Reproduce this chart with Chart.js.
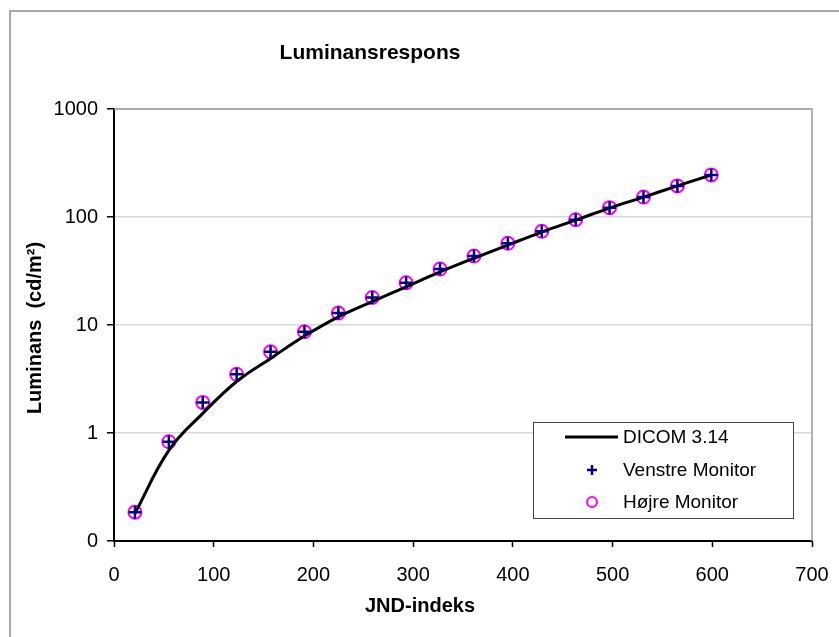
<!DOCTYPE html>
<html>
<head>
<meta charset="utf-8">
<script src="https://cdn.jsdelivr.net/npm/chart.js@4"></script>
<style>
  html, body { margin: 0; padding: 0; background: #fff; }
  canvas { display: block; }
</style>
</head>
<body>
<canvas id="chart" width="839" height="637"></canvas>
<script>
// values
const jndIndex = [21, 55, 89, 123, 157, 191, 225, 259, 293, 327, 361, 395, 429, 463, 497, 531, 565, 599];
const dicomLum = [0.18, 0.69, 1.52, 3.0, 4.9, 7.9, 11.9, 16.5, 22.6, 31.0, 41.5, 55, 72.5, 93.5, 121, 153, 194, 245];
const venstreLum = [0.185, 0.83, 1.92, 3.5, 5.65, 8.65, 12.9, 18.0, 24.6, 33.0, 43.5, 57.1, 73.7, 94.4, 122, 153, 194, 245];
const hojreLum = [0.185, 0.83, 1.92, 3.5, 5.65, 8.65, 12.9, 18.0, 24.6, 33.0, 43.5, 57.1, 73.7, 94.4, 122, 153, 194, 245];
const yTicks = [0.1, 1, 10, 100, 1000];
const xTicks = [0, 100, 200, 300, 400, 500, 600, 700];

const seriesNames = ["DICOM 3.14", "Venstre Monitor", "Højre Monitor"];
const chartTitle = "Luminansrespons";
const xTitle = "JND-indeks";
const yTitle = "Luminans  (cd/m²)";

const FONT = "'Liberation Sans', Arial, sans-serif";

function pts(xs, ys) {
    return xs.map((x, i) => ({ x: x, y: ys[i] }));
}

// frame, titles, plot border and legend box
const decor = {
    id: "decor",
    beforeDraw(chart) {
        const c = chart.ctx;
        c.save();
        c.fillStyle = "#fff";
        c.fillRect(0, 0, chart.width, chart.height);
        c.strokeStyle = "#8c8c8c";
        c.lineWidth = 1.5;
        c.strokeRect(10, 11, 1000, 1000);
        c.restore();
    },
    beforeDatasetsDraw(chart) {
        const c = chart.ctx;
        const a = chart.chartArea;
        c.save();
        c.strokeStyle = "#9a9a9a";
        c.lineWidth = 1.5;
        c.beginPath();
        c.moveTo(a.left, a.top);
        c.lineTo(a.right, a.top);
        c.lineTo(a.right, a.bottom);
        c.stroke();
        c.restore();
    },
    afterDraw(chart) {
        const c = chart.ctx;
        c.save();
        c.fillStyle = "#000";
        c.textAlign = "center";
        c.textBaseline = "alphabetic";
        c.font = "bold 21px " + FONT;
        c.fillText(chartTitle, 370, 59);
        c.font = "bold 20px " + FONT;
        c.fillText(xTitle, 420, 612);
        c.save();
        c.translate(35, 328);
        c.rotate(-Math.PI / 2);
        c.textBaseline = "middle";
        c.fillText(yTitle, 0, 0);
        c.restore();

        // legend
        c.fillStyle = "#fff";
        c.fillRect(533, 422, 260, 96);
        c.strokeStyle = "#444";
        c.lineWidth = 1;
        c.strokeRect(533.5, 422.5, 260, 96);
        const rows = [437, 470, 502];
        c.strokeStyle = "#000";
        c.lineWidth = 3;
        c.beginPath();
        c.moveTo(565, rows[0]);
        c.lineTo(618, rows[0]);
        c.stroke();
        c.strokeStyle = "#000080";
        c.lineWidth = 2.5;
        c.beginPath();
        c.moveTo(587, rows[1]); c.lineTo(597, rows[1]);
        c.moveTo(592, rows[1] - 5); c.lineTo(592, rows[1] + 5);
        c.stroke();
        c.strokeStyle = "#ff00ff";
        c.lineWidth = 2;
        c.beginPath();
        c.arc(592, rows[2], 5, 0, Math.PI * 2);
        c.stroke();
        c.fillStyle = "#000";
        c.font = "19px " + FONT;
        c.textAlign = "left";
        c.textBaseline = "middle";
        seriesNames.forEach((n, i) => c.fillText(n, 623, rows[i] + 1));
        c.restore();
    }
};

new Chart(document.getElementById("chart"), {
    type: "scatter",
    data: {
        datasets: [
            {
                label: seriesNames[1],
                data: pts(jndIndex, venstreLum),
                pointStyle: "cross",
                pointRadius: 6.5,
                borderColor: "#000080",
                backgroundColor: "#000080",
                pointBorderWidth: 2.5,
                showLine: false,
                order: 0
            },
            {
                label: seriesNames[0],
                data: pts(jndIndex, dicomLum),
                showLine: true,
                borderColor: "#000",
                borderWidth: 3,
                pointRadius: 0,
                tension: 0.4,
                order: 1
            },
            {
                label: seriesNames[2],
                data: pts(jndIndex, hojreLum),
                pointStyle: "circle",
                pointRadius: 6.5,
                borderColor: "#ff00ff",
                backgroundColor: "rgba(0,0,0,0)",
                pointBorderWidth: 2,
                showLine: false,
                order: 2
            }
        ]
    },
    options: {
        responsive: false,
        animation: false,
        layout: { padding: { left: 0, right: 27, top: 109, bottom: 0 } },
        plugins: {
            legend: { display: false },
            tooltip: { enabled: false },
            title: { display: false }
        },
        scales: {
            x: {
                type: "linear",
                min: 0,
                max: 700,
                afterFit: s => { s.height = 96; s.paddingLeft = 0; s.paddingRight = 0; },
                afterBuildTicks: s => { s.ticks = xTicks.map(v => ({ value: v })); },
                grid: {
                    drawOnChartArea: false,
                    tickLength: 6,
                    tickColor: "#000",
                    tickWidth: 1.5
                },
                border: { color: "#000", width: 2 },
                ticks: {
                    color: "#000",
                    font: { family: FONT, size: 20 },
                    padding: 16,
                    maxRotation: 0
                }
            },
            y: {
                type: "logarithmic",
                min: 0.1,
                max: 1000,
                afterFit: s => { s.width = 114; s.paddingTop = 0; s.paddingBottom = 0; },
                afterBuildTicks: s => { s.ticks = yTicks.map(v => ({ value: v })); },
                grid: {
                    color: "#d9d9d9",
                    lineWidth: 1.5,
                    tickLength: 7,
                    tickColor: "#000",
                    tickWidth: 1.5
                },
                border: { color: "#000", width: 2 },
                ticks: {
                    color: "#000",
                    font: { family: FONT, size: 20 },
                    padding: 9,
                    callback: v => (v < 1 ? "0" : String(v))
                }
            }
        }
    },
    plugins: [decor]
});
</script>
</body>
</html>
